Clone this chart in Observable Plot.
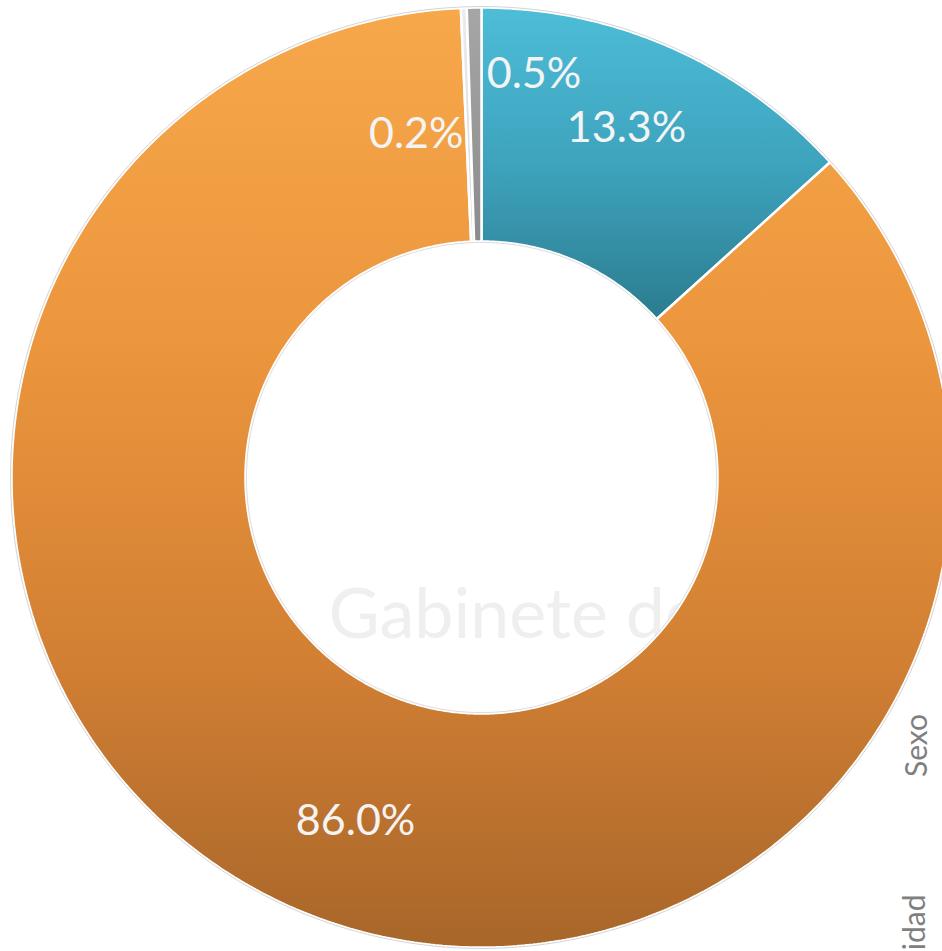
<!DOCTYPE html>
<html>
<head>
<meta charset="utf-8">
<script src="https://cdn.jsdelivr.net/npm/d3@7"></script>
<script src="https://cdn.jsdelivr.net/npm/@observablehq/plot@0.6"></script>
<style>
  html, body { margin: 0; padding: 0; background: #ffffff; }
  #chart svg { display: block; }
</style>
</head>
<body>
<div id="chart"></div>
<script>
// ---- data (clockwise from 12 o'clock) ----
const categories = ["Hombre", "Mujer", "Otro", "No consta"];
const values = [13.3, 86.0, 0.2, 0.5];
const labels = ["13.3%", "86.0%", "0.2%", "0.5%"];
const fills = ["url(#gTeal)", "url(#gOrange)", "url(#gLight)", "url(#gGray)"];
const labelOffsets = [[2, -27], [10, 18], [-52, 9], [58, -51]];

// ---- geometry derived from the data ----
const W = 942, H = 951;
const cx = 481, cy = 477, R = 470;
const innerRatio = 236 / 470;
const total = d3.sum(values);
let acc = 0;
const slices = values.map((v, i) => {
  const a0 = acc / total * 2 * Math.PI;
  acc += v;
  const a1 = acc / total * 2 * Math.PI;
  return {category: categories[i], value: v, label: labels[i], a0, a1, i};
});
function slicePolygon(s) {
  const pts = [];
  const n = Math.max(4, Math.ceil((s.a1 - s.a0) / (Math.PI / 360)));
  for (let k = 0; k <= n; k++) {
    const a = s.a0 + (s.a1 - s.a0) * k / n;
    pts.push({x: Math.sin(a), y: Math.cos(a), category: s.category});
  }
  for (let k = n; k >= 0; k--) {
    const a = s.a0 + (s.a1 - s.a0) * k / n;
    pts.push({x: innerRatio * Math.sin(a), y: innerRatio * Math.cos(a), category: s.category});
  }
  return pts;
}
function circle(r) {
  return d3.range(0, 721).map(k => {
    const a = k / 720 * 2 * Math.PI;
    return {x: r * Math.sin(a), y: r * Math.cos(a)};
  });
}
const labelR = 0.75;
const labelData = slices.map(s => {
  const m = (s.a0 + s.a1) / 2;
  return {label: s.label, x: labelR * Math.sin(m), y: labelR * Math.cos(m), i: s.i};
});

const font = "'Lato', 'Open Sans', 'DejaVu Sans', sans-serif";

const marks = [
  // faint watermark text behind the ring
  Plot.text(["Gabinete de"], {
    frameAnchor: "top-left", dx: 328, dy: 588, textAnchor: "start",
    fontSize: 70, fill: "#efefef", fontFamily: font
  }),
  ...slices.map(s => Plot.line(slicePolygon(s), {
    x: "x", y: "y", curve: "linear-closed",
    fill: fills[s.i], stroke: "#ffffff", strokeWidth: 2.5, strokeLinejoin: "miter"
  })),
  Plot.line(circle(1.002), {x: "x", y: "y", stroke: "#c8c8c8", strokeWidth: 0.8}),
  Plot.line(circle(innerRatio - 0.002), {x: "x", y: "y", stroke: "#d0d0d0", strokeWidth: 0.8}),
  ...labelData.map(d => Plot.text([d], {
    x: "x", y: "y", text: "label",
    dx: labelOffsets[d.i][0], dy: labelOffsets[d.i][1],
    fill: "#f4f4f4", fontSize: 43, fontFamily: font
  })),
  Plot.text(["Sexo"], {
    frameAnchor: "top-left", dx: 926, dy: 745, rotate: -90,
    textAnchor: "middle", lineAnchor: "bottom",
    fontSize: 30, fill: "#7f7f7f", fontFamily: font
  }),
  Plot.text(["Nacionalidad"], {
    frameAnchor: "top-left", dx: 924, dy: 894, rotate: -90,
    textAnchor: "end", lineAnchor: "bottom",
    fontSize: 30, fill: "#7f7f7f", fontFamily: font
  })
];

const svg = Plot.plot({
  width: W, height: H,
  marginTop: 0, marginRight: 0, marginBottom: 0, marginLeft: 0,
  x: {domain: [-cx / R, (W - cx) / R], axis: null},
  y: {domain: [-(H - cy) / R, cy / R], axis: null},
  style: {background: "#ffffff", overflow: "hidden"},
  marks
});

const defs = d3.select(svg).insert("defs", ":first-child");
function grad(id, stops) {
  const g = defs.append("linearGradient").attr("id", id)
    .attr("x1", 0).attr("y1", 0).attr("x2", 0).attr("y2", 1);
  stops.forEach(([o, c]) => g.append("stop").attr("offset", o).attr("stop-color", c));
}
grad("gTeal", [[0, "#4dbdd8"], [0.5, "#3ea3bd"], [1, "#2b7c8f"]]);
grad("gOrange", [[0, "#f7a84b"], [0.35, "#ec963d"], [0.7, "#d17f33"], [1, "#a8662a"]]);
grad("gLight", [[0, "#ececec"], [1, "#d8d8d8"]]);
grad("gGray", [[0, "#a6a6a6"], [1, "#8c8c8c"]]);

document.getElementById("chart").appendChild(svg);
</script>
</body>
</html>
